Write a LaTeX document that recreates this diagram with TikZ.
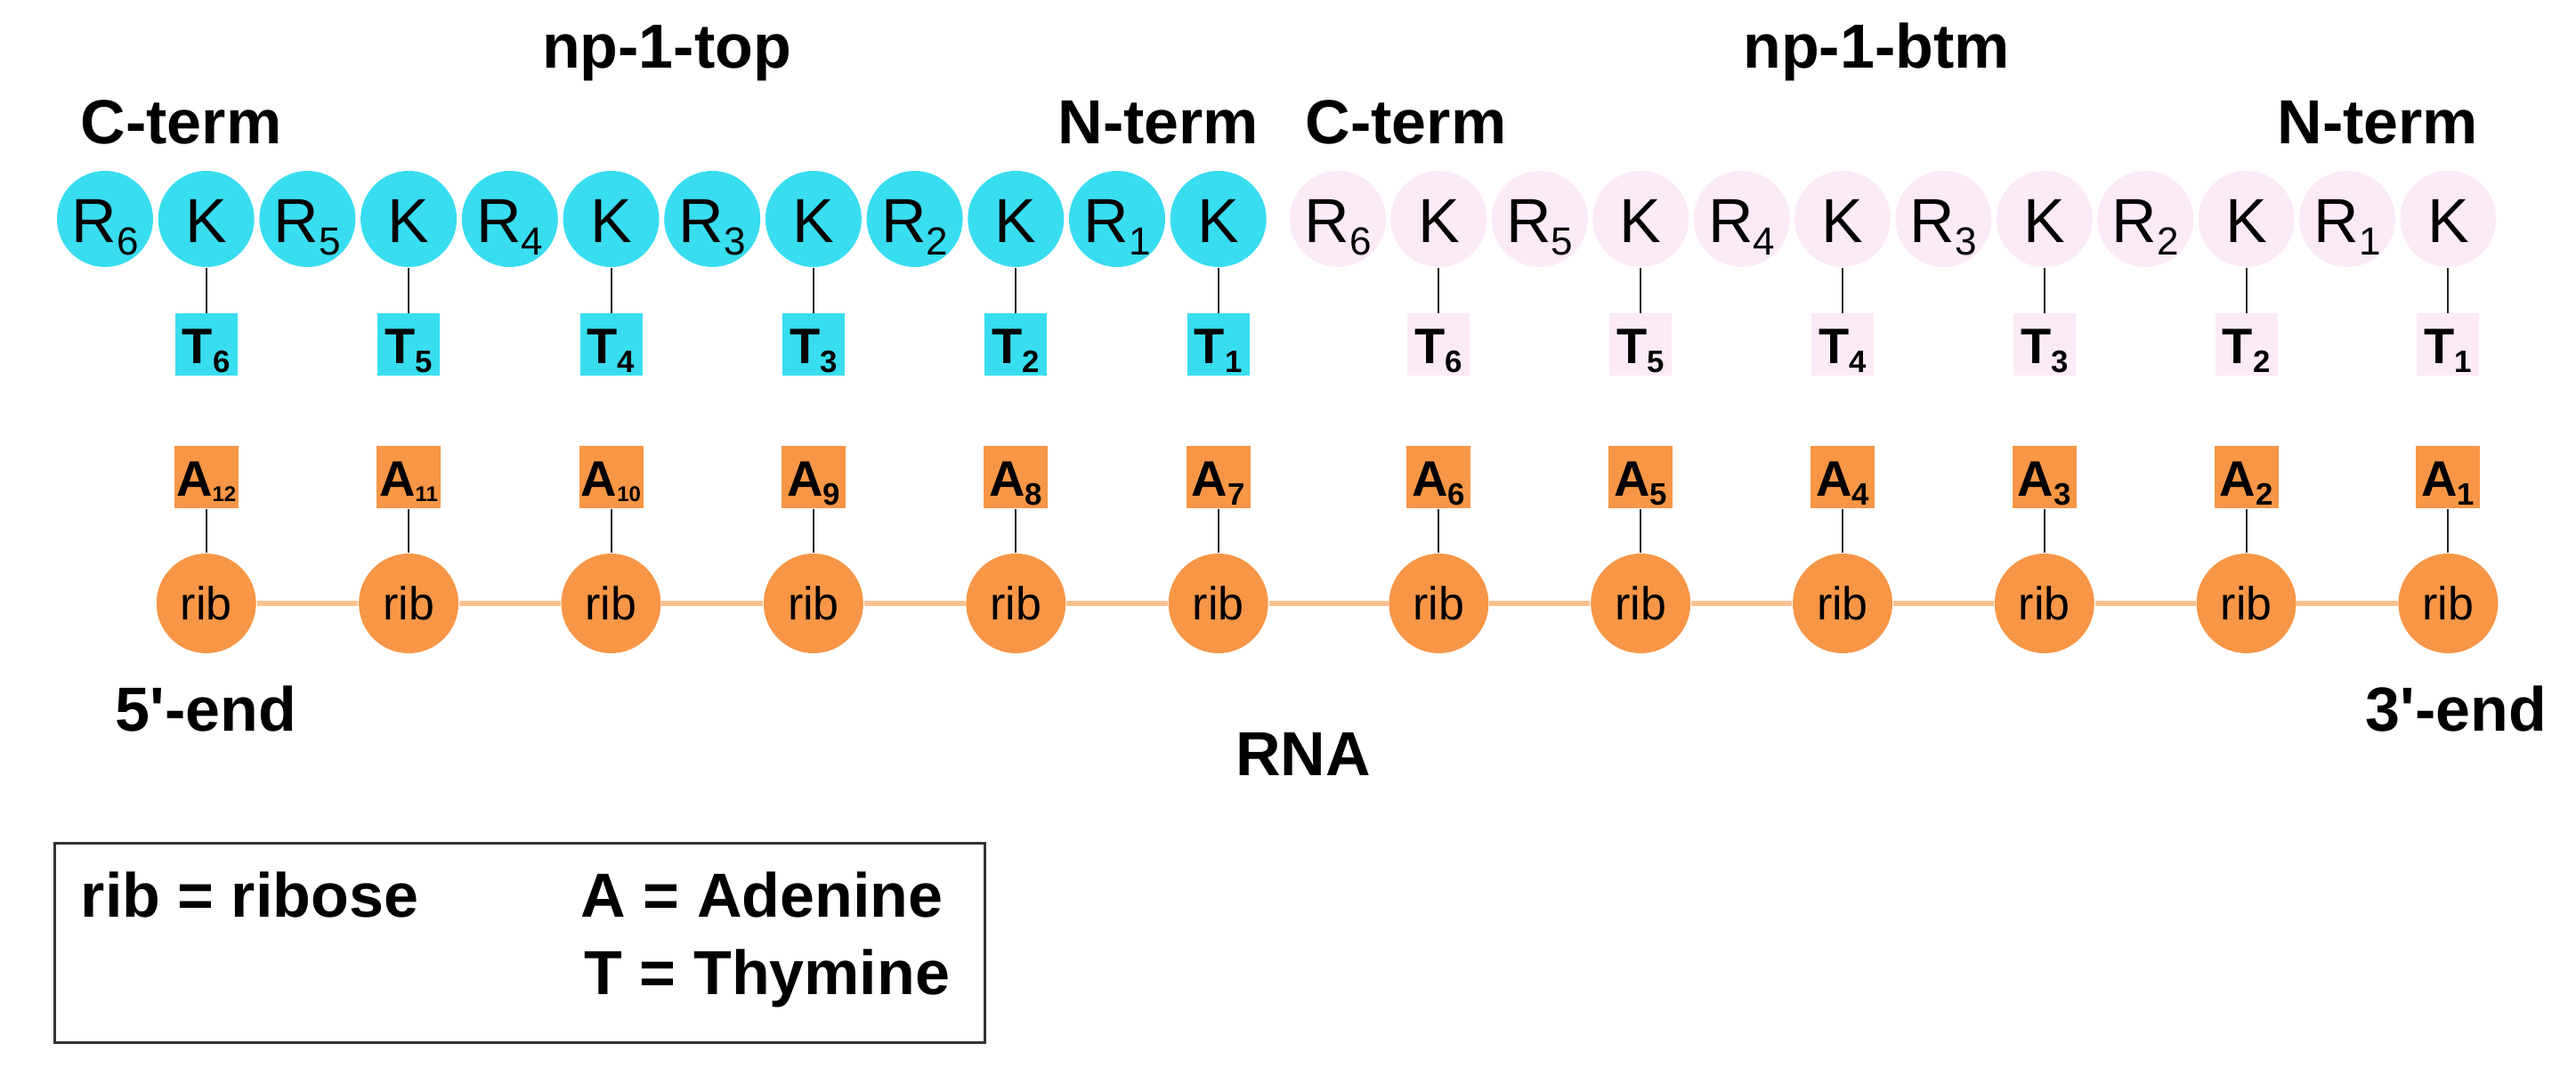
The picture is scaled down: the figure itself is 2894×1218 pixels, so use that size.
\documentclass[tikz,border=0pt]{standalone}
\usepackage{fontspec}
\setmainfont{Liberation Sans}[Ligatures=TeXOff]
\definecolor{cyanf}{RGB}{56,221,240}
\definecolor{pinkf}{RGB}{253,234,247}
\definecolor{orangef}{RGB}{247,150,70}
\definecolor{peach}{RGB}{250,192,144}
\newcommand\csub[1]{\raisebox{-3.5pt}{\fontsize{11pt}{11pt}\selectfont #1}}
\newcommand\bsub[1]{\raisebox{-2.5pt}{\fontsize{8.7pt}{8.7pt}\selectfont #1}}
\newcommand\bsubb[1]{\raisebox{-1.5pt}{\fontsize{6pt}{6pt}\selectfont #1}}
\tikzset{
  res/.style={circle, minimum size=27pt, inner sep=0pt, text height=13.5pt, text depth=0pt,
    font=\fontsize{17.5pt}{18pt}\selectfont},
  cyanres/.style={res, fill=cyanf},
  pinkres/.style={res, fill=pinkf},
  basebox/.style={rectangle, minimum width=17.5pt, minimum height=17.5pt, inner sep=0pt,
    text height=11.2pt, text depth=0.6pt, font=\fontsize{14pt}{14pt}\selectfont\bfseries},
  cyanbox/.style={basebox, fill=cyanf},
  pinkbox/.style={basebox, fill=pinkf},
  abox/.style={basebox, fill=orangef, minimum width=18pt},
  ribnode/.style={circle, minimum size=28pt, inner sep=0pt, fill=orangef, text height=9.5pt,
    text depth=0pt, font=\fontsize{13pt}{13pt}\selectfont},
  link/.style={draw=black!85, line width=0.5pt},
  ribline/.style={draw=peach, line width=1.5pt},
  lbl/.style={inner sep=0pt, font=\fontsize{17.5pt}{18pt}\selectfont\bfseries},
}
\begin{document}
\begin{tikzpicture}[x=0.25pt, y=-0.25pt]
\useasboundingbox (0,0) rectangle (2894,1218);
% titles
\node[lbl, anchor=base] (ttop) at (749,77) {np-1-top};
\node[lbl, anchor=base] (tbtm) at (2108,77) {np-1-btm};
\node[lbl, anchor=base west] (cterm1) at (90,162) {C-term};
\node[lbl, anchor=base east] (nterm1) at (1415,162) {N-term};
\node[lbl, anchor=base west] (cterm2) at (1466,162) {C-term};
\node[lbl, anchor=base east] (nterm2) at (2785,162) {N-term};
% protein rows
\foreach \j in {1,...,6}{
  \pgfmathsetmacro\xr{118+113.7*(2*\j-2)}
  \pgfmathsetmacro\xk{118+113.7*(2*\j-1)}
  \pgfmathtruncatemacro\n{7-\j}
  \node[cyanres] (cr\j) at (\xr,246) {R\csub{\n}};
  \node[cyanres] (ck\j) at (\xk,246) {K};
  \node[cyanbox] (ct\j) at (\xk,387.5) {T\bsub{\n}};
  \draw[link] (ck\j.south) -- (ct\j.north);
  \pgfmathsetmacro\yr{1503+113.4*(2*\j-2)}
  \pgfmathsetmacro\yk{1503+113.4*(2*\j-1)}
  \node[pinkres] (pr\j) at (\yr,246) {R\csub{\n}};
  \node[pinkres] (pk\j) at (\yk,246) {K};
  \node[pinkbox] (pt\j) at (\yk,387.5) {T\bsub{\n}};
  \draw[link] (pk\j.south) -- (pt\j.north);
}
% RNA
\foreach \x [count=\i] in {231.7,459.1,686.5,913.9,1141.3,1368.7,1616.4,1843.2,2070,2296.8,2523.6,2750.4}{
  \pgfmathtruncatemacro\n{13-\i}
  \ifnum\n>9 \def\alab{A\bsubb{\n}}\else\def\alab{A\bsub{\n}}\fi
  \node[abox] (a\i) at (\x,536.5) {\alab};
  \node[ribnode] (r\i) at (\x,678) {rib};
  \draw[link] (a\i.south) -- (r\i.north);
}
\foreach \i [evaluate=\i as \k using int(\i+1)] in {1,...,11}{
  \draw[ribline] (r\i.east) -- (r\k.west);
}
\node[lbl, anchor=base west] (five) at (129,822) {5'-end};
\node[lbl, anchor=base east] (three) at (2862,822) {3'-end};
\node[lbl, anchor=base] (rna) at (1464,872) {RNA};
% legend
\node[draw=black!80, line width=0.75pt, minimum width=261.25pt, minimum height=56pt, inner sep=0pt] (legend) at (583.5,1059) {};
\node[lbl, anchor=base west] (l1) at (90,1031) {rib = ribose};
\node[lbl, anchor=base west] (l2) at (652,1031) {A = Adenine};
\node[lbl, anchor=base west] (l3) at (656,1117) {T = Thymine};
\end{tikzpicture}
\end{document}
